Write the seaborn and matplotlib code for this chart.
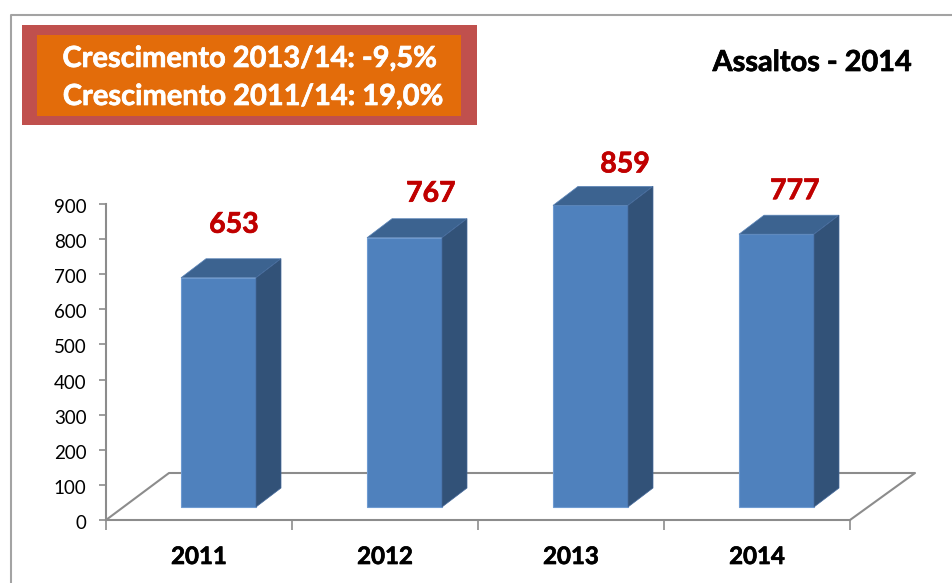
import matplotlib
matplotlib.use('Agg')
import matplotlib.pyplot as plt
import matplotlib.patheffects as pe
import seaborn as sns
import pandas as pd
from matplotlib.patches import Polygon, Rectangle
from matplotlib.lines import Line2D
from matplotlib.transforms import ScaledTranslation

anos = ['2011', '2012', '2013', '2014']
assaltos = [653, 767, 859, 777]
y_ticks = [0, 100, 200, 300, 400, 500, 600, 700, 800, 900]
titulo = 'Assaltos - 2014'
caixa_textos = ['Crescimento 2013/14: -9,5%', 'Crescimento 2011/14: 19,0%']

W, H = 953, 583

sns.set_theme(style='white')
plt.rcParams['font.family'] = ['Lato', 'DejaVu Sans']

fig = plt.figure(figsize=(W / 100, H / 100), dpi=100, facecolor='white')
# eixo em pixels da imagem: x 106-850, y 204-520
ax = fig.add_axes([106 / W, 1 - 520 / H, (850 - 106) / W, (520 - 204) / H])
ax.patch.set_alpha(0)


def fx(x):
    return x / W


def fy(y):
    return 1 - y / H


def engrossa(txt, cor):
    # Lato bold fica mais fino que o original
    txt.set_path_effects([pe.withStroke(linewidth=0.5, foreground=cor)])


cinza = '#8c8c8c'

# moldura do grafico
fig.add_artist(Line2D([fx(10.5), fx(10.5), fx(953)], [fy(583), fy(15), fy(15)], color='#a3a3a3', lw=1.5))
# caixa laranja
fig.add_artist(Rectangle((fx(22), fy(125)), 455 / W, 100 / H, transform=fig.transFigure, color='#c0504d', lw=0))
fig.add_artist(Rectangle((fx(37), fy(115.5)), 424 / W, 80.5 / H, transform=fig.transFigure, color='#e36c0a', lw=0))
t1 = fig.text(fx(249.5), fy(59), caixa_textos[0], color='white', fontsize=20.9, fontweight='bold', ha='center', va='center')
t2 = fig.text(fx(253), fy(97), caixa_textos[1], color='white', fontsize=20.9, fontweight='bold', ha='center', va='center')
t3 = fig.text(fx(812), fy(63), titulo, color='black', fontsize=20.8, fontweight='bold', ha='center', va='center')
engrossa(t1, 'white')
engrossa(t2, 'white')
engrossa(t3, 'black')

df = pd.DataFrame({'ano': anos, 'assaltos': assaltos})

# base da barra fica um pouco acima do zero, como no 3D do Excel
base = 37
sns.barplot(data=df, x='ano', y='assaltos', ax=ax, color='#4f81bd', saturation=1,
            width=75 / 186, bottom=base, edgecolor='#6f9bd1', linewidth=0.8, zorder=3)

ax.set_xlim(-0.5, 3.5)
ax.set_ylim(0, 900)

px_x = 4 / (850 - 106)     # unidades de categoria por pixel
px_y = 900 / (520 - 204)   # unidades de valor por pixel
desl = 19.5 * px_x
dx, dy = 25 * px_x, 19 * px_y

# chao do grafico
ax.plot([-0.5, -0.5 + 63 * px_x, 3.5 + 65 * px_x, 3.5],
        [0, 47 * px_y, 47 * px_y, 0], color=cinza, lw=1.5, clip_on=False, zorder=1)

# rotulos: ajuste em pixels em relacao ao topo de cada barra
aj_x = [15.5, 26.5, 34.5, 18.5]
aj_y = [53, 44, 41, 43]

for i, bar in enumerate(ax.patches):
    bar.set_x(bar.get_x() + desl)
    x0, x1 = bar.get_x(), bar.get_x() + bar.get_width()
    y0, y1 = bar.get_y(), bar.get_y() + bar.get_height()
    ax.add_patch(Polygon([(x0, y1), (x1, y1), (x1 + dx, y1 + dy), (x0 + dx, y1 + dy)],
                         facecolor='#3c6390', edgecolor='#5b84b8', lw=0.5, clip_on=False, zorder=3))
    ax.add_patch(Polygon([(x1, y0), (x1 + dx, y0 + dy), (x1 + dx, y1 + dy), (x1, y1)],
                         facecolor='#325278', edgecolor='#44689a', lw=0.5, clip_on=False, zorder=3))
    rot = ax.text((x0 + x1) / 2 + aj_x[i] * px_x, y1 + aj_y[i] * px_y, str(assaltos[i]),
                  color='#c00000', fontsize=20.5, fontweight='bold', ha='center', va='center', clip_on=False)
    engrossa(rot, '#c00000')

sns.despine(ax=ax)
for lado in ['left', 'bottom']:
    ax.spines[lado].set_color(cinza)
    ax.spines[lado].set_linewidth(1.5)
ax.set_xlabel('')
ax.set_ylabel('')
ax.set_yticks(y_ticks)
ax.set_xticks([-0.5, 0.5, 1.5, 2.5, 3.5], minor=True)
ax.tick_params(axis='y', left=True, length=5, width=1.2, color=cinza, labelsize=13.5, pad=9, labelcolor='black')
ax.tick_params(axis='x', which='major', bottom=False, labelsize=17.3, pad=12, labelcolor='black')
ax.tick_params(axis='x', which='minor', bottom=True, length=7, width=1.2, color=cinza)
for t in ax.get_xticklabels():
    t.set_fontweight('bold')
    engrossa(t, 'black')
# os numeros do eixo y ficam 2 px mais baixos no original
for t in ax.get_yticklabels():
    t.set_transform(t.get_transform() + ScaledTranslation(0, -2 / 100, fig.dpi_scale_trans))

fig.savefig('out.png', dpi=100, facecolor='white')
